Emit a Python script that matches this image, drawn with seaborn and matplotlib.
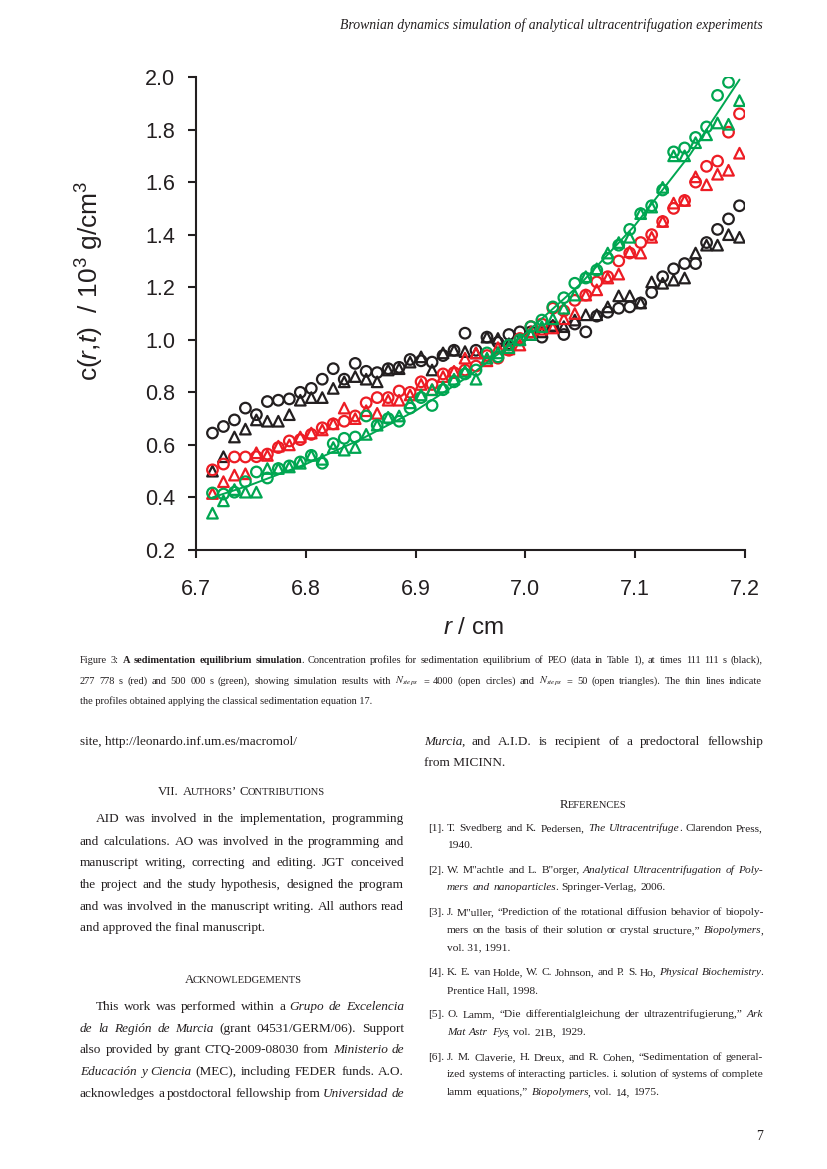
import matplotlib
matplotlib.use("Agg")
import numpy as np
import matplotlib.pyplot as plt
import seaborn as sns

# ---------------- data ----------------
radius = [6.715, 6.725, 6.735, 6.745, 6.755, 6.765, 6.775, 6.785, 6.795, 6.805,
          6.815, 6.825, 6.835, 6.845, 6.855, 6.865, 6.875, 6.885, 6.895, 6.905,
          6.915, 6.925, 6.935, 6.945, 6.955, 6.965, 6.975, 6.985, 6.995, 7.005,
          7.015, 7.025, 7.035, 7.045, 7.055, 7.065, 7.075, 7.085, 7.095, 7.105,
          7.115, 7.125, 7.135, 7.145, 7.155, 7.165, 7.175, 7.185, 7.195]

black_circles = [0.645, 0.670, 0.695, 0.740, 0.715, 0.765, 0.770, 0.775, 0.800, 0.815,
                 0.850, 0.890, 0.850, 0.910, 0.880, 0.875, 0.890, 0.895, 0.925, 0.920,
                 0.915, 0.940, 0.960, 1.025, 0.960, 1.010, 0.990, 1.020, 1.030, 1.030,
                 1.010, 1.050, 1.020, 1.060, 1.030, 1.090, 1.105, 1.120, 1.125, 1.140,
                 1.180, 1.240, 1.270, 1.290, 1.290, 1.370, 1.420, 1.460, 1.510]
black_triangles = [0.500, 0.555, 0.630, 0.660, 0.695, 0.690, 0.690, 0.715, 0.770, 0.780,
                   0.780, 0.815, 0.840, 0.860, 0.850, 0.840, 0.885, 0.890, 0.915, 0.935,
                   0.885, 0.950, 0.960, 0.955, 0.950, 1.010, 1.005, 0.985, 1.000, 1.020,
                   1.030, 1.055, 1.050, 1.075, 1.095, 1.095, 1.125, 1.167, 1.167, 1.140,
                   1.220, 1.215, 1.227, 1.235, 1.330, 1.360, 1.360, 1.400, 1.390]
red_circles = [0.505, 0.527, 0.554, 0.554, 0.555, 0.565, 0.590, 0.615, 0.620, 0.640,
               0.665, 0.680, 0.690, 0.710, 0.760, 0.780, 0.780, 0.805, 0.800, 0.840,
               0.830, 0.870, 0.875, 0.885, 0.900, 0.940, 0.930, 0.960, 1.005, 1.050,
               1.060, 1.120, 1.110, 1.150, 1.170, 1.220, 1.240, 1.300, 1.330, 1.370,
               1.400, 1.450, 1.500, 1.530, 1.600, 1.660, 1.680, 1.790, 1.860]
red_triangles = [0.415, 0.460, 0.485, 0.490, 0.570, 0.560, 0.595, 0.600, 0.630, 0.645,
                 0.657, 0.680, 0.740, 0.700, 0.730, 0.720, 0.770, 0.770, 0.790, 0.830,
                 0.810, 0.860, 0.880, 0.930, 0.950, 0.920, 0.970, 0.965, 0.980, 1.030,
                 1.040, 1.045, 1.080, 1.100, 1.170, 1.190, 1.235, 1.250, 1.335, 1.330,
                 1.390, 1.450, 1.520, 1.530, 1.620, 1.590, 1.630, 1.645, 1.710]
green_circles = [0.417, 0.413, 0.420, 0.460, 0.497, 0.474, 0.510, 0.520, 0.535, 0.560,
                 0.530, 0.605, 0.625, 0.630, 0.710, 0.675, 0.700, 0.690, 0.740, 0.780,
                 0.750, 0.810, 0.840, 0.870, 0.885, 0.950, 0.935, 0.980, 1.000, 1.050,
                 1.075, 1.125, 1.160, 1.215, 1.235, 1.265, 1.310, 1.360, 1.420, 1.480,
                 1.510, 1.570, 1.715, 1.730, 1.770, 1.810, 1.930, 1.980, np.nan]
green_triangles = [0.340, 0.387, 0.430, 0.420, 0.420, 0.510, 0.510, 0.516, 0.530, 0.560,
                   0.545, 0.590, 0.580, 0.590, 0.640, 0.675, 0.705, 0.710, 0.760, 0.790,
                   0.810, 0.820, 0.850, 0.880, 0.850, 0.930, 0.950, 0.970, 1.000, 1.020,
                   1.050, 1.080, 1.120, 1.170, 1.240, 1.270, 1.330, 1.370, 1.390, 1.480,
                   1.505, 1.580, 1.700, 1.700, 1.750, 1.780, 1.825, 1.820, 1.910]

# thin line (classical sedimentation equation), green profile
line_r = [6.715, 6.75, 6.80, 6.85, 6.90, 6.95, 7.00, 7.05, 7.10, 7.15, 7.195]
line_c = [0.400, 0.448, 0.527, 0.621, 0.730, 0.866, 1.024, 1.212, 1.437, 1.705, 1.990]

x_ticks = [6.7, 6.8, 6.9, 7.0, 7.1, 7.2]
y_ticks = [0.2, 0.4, 0.6, 0.8, 1.0, 1.2, 1.4, 1.6, 1.8, 2.0]

BLACK = "#231f20"
RED = "#ed1c24"
GREEN = "#00a651"

# ---------------- style ----------------
sns.set_theme(style="ticks")
plt.rcParams["font.family"] = ["Liberation Sans", "DejaVu Sans"]
plt.rcParams["mathtext.fontset"] = "custom"
plt.rcParams["mathtext.rm"] = "Liberation Sans"
plt.rcParams["mathtext.it"] = "Liberation Sans:italic"

W, H = 827, 1169
fig = plt.figure(figsize=(W / 100, H / 100), dpi=100)
fig.patch.set_facecolor("white")

# ---------------- chart ----------------
ax = fig.add_axes([196 / W, 1 - 550 / H, (745 - 196) / W, (550 - 77) / H])
ax.set_facecolor("none")
series = [
    (black_triangles, "^", BLACK), (black_circles, "o", BLACK),
    (red_triangles, "^", RED), (red_circles, "o", RED),
    (green_triangles, "^", GREEN), (green_circles, "o", GREEN),
]
for vals, mk, col in series:
    sns.scatterplot(x=radius, y=vals, marker=mk, s=58, color=col,
                    facecolor="none", edgecolor=col, linewidth=1.6,
                    ax=ax, legend=False, zorder=3)
sns.lineplot(x=line_r, y=line_c, color=GREEN, linewidth=1.4, ax=ax,
             legend=False, zorder=4)

ax.set_xlim(6.7, 7.2)
ax.set_ylim(0.2, 2.0)
ax.set_xticks(x_ticks)
ax.set_xticklabels([f"{v:.1f}" for v in x_ticks])
ax.set_yticks(y_ticks)
ax.set_yticklabels([f"{v:.1f}" for v in y_ticks])
for s in ["top", "right"]:
    ax.spines[s].set_visible(False)
for s in ["left", "bottom"]:
    ax.spines[s].set_linewidth(1.5)
    ax.spines[s].set_color(BLACK)
ax.tick_params(axis="both", direction="out", length=6, width=1.5,
               colors=BLACK, labelsize=15.5)
ax.tick_params(axis="x", pad=15)
ax.tick_params(axis="y", pad=9)
ax.set_xlabel("")
ax.set_ylabel("")
fig.text(473 / W, 1 - 628 / H, r"$\it{r}$ / cm", ha="center", va="center",
         fontsize=17.5, color=BLACK)
fig.text(90 / W, 1 - 281 / H, r"c($\it{r}$,$\it{t}$)  / 10$^3$ g/cm$^3$",
         ha="center", va="center", rotation=90, fontsize=19, color=BLACK)

# ---------------- page text ----------------
tax = fig.add_axes([0, 0, 1, 1], zorder=-1)
tax.set_xlim(0, W)
tax.set_ylim(H, 0)
tax.axis("off")
renderer = fig.canvas.get_renderer()
SERIF = ["Liberation Serif", "DejaVu Serif"]
TXT = "#231f20"


def make(txt, x, y, size, style):
    kw = dict(fontsize=size, family=SERIF, va="baseline", ha="left", color=TXT)
    if style == "i":
        kw["style"] = "italic"
    if style == "b":
        kw["weight"] = "bold"
    t = tax.text(x, y, txt, **kw)
    if style == "m":
        t.set_math_fontfamily("stix")
    return t


def width(t):
    return t.get_window_extent(renderer=renderer).width


def tokens(segs):
    words = [[]]
    for seg in segs:
        txt, st = seg[0], seg[1]
        f = seg[2] if len(seg) > 2 else 1.0
        parts = txt.split(" ")
        for k, p in enumerate(parts):
            if k > 0:
                words.append([])
            if p:
                words[-1].append((p, st, f))
    return [w for w in words if w]


def line(segs, x0, y, size, x1=None, justify=False, align="left"):
    # simple case: one style, no justification -> single text object
    if not justify and len(segs) == 1 and len(segs[0]) == 2:
        t = make(segs[0][0], x0, y, size, segs[0][1])
        t.set_ha(align)
        return
    words = tokens(segs)
    objs = []
    for w in words:
        pcs = []
        for txt, st, f in w:
            t = make(txt, 0, y, size * f, st)
            pcs.append((t, width(t)))
        objs.append(pcs)
    a = make("a a", 0, y, size, "r")
    b = make("aa", 0, y, size, "r")
    sp = width(a) - width(b) + 0.8
    a.remove()
    b.remove()
    kern = -1.2
    wws = [sum(p[1] for p in pc) + kern * (len(pc) - 1) for pc in objs]
    total = sum(wws)
    if justify and x1 is not None and len(objs) > 1:
        gap = (x1 - x0 - total) / (len(objs) - 1)
    else:
        gap = sp
    full = total + gap * (len(objs) - 1)
    if align == "center":
        x = x0 - full / 2
    elif align == "right":
        x = x0 - full
    else:
        x = x0
    for pc, ww in zip(objs, wws):
        for j, (t, wd) in enumerate(pc):
            t.set_x(x)
            x += wd + (kern if j < len(pc) - 1 else 0)
        x += gap


# header
line([("Brownian dynamics simulation of analytical ultracentrifugation experiments", "i")],
     763, 29, 9.9, align="right")

# caption
CAP = 7.5
line([("Figure 3: ", "r"), ("A sedimentation equilibrium simulation", "b"),
      (". Concentration profiles for sedimentation equilibrium of PEO (data in Table 1), at times 111 111 s (black),", "r")],
     80, 663, CAP, x1=762, justify=True)
line([("277 778 s (red) and 500 000 s (green), showing simulation results with ", "r"),
      (r"$N_{steps}$", "m"), (" = 4000 (open circles) and ", "r"), (r"$N_{steps}$", "m"),
      (" = 50 (open triangles). The thin lines indicate", "r")],
     80, 684, CAP, x1=762, justify=True)
line([("the profiles obtained applying the classical sedimentation equation 17.", "r")],
     80, 704, CAP)

# left column
BODY = 9.5
L0, L1 = 80, 404
line([("site, http://leonardo.inf.um.es/macromol/", "r")], L0, 745, BODY)
line([("VII. A", "r", 0.97), ("UTHORS", "r", 0.8), ("’ C", "r", 0.97), ("ONTRIBUTIONS", "r", 0.8)],
     241, 795, BODY, align="center")
body1 = ["AID was involved in the implementation, programming",
         "and calculations.  AO was involved in the programming and",
         "manuscript writing, correcting and editing.  JGT conceived",
         "the project and the study hypothesis, designed the program",
         "and was involved in the manuscript writing. All authors read",
         "and approved the final manuscript."]
ys1 = [822, 845, 866, 888, 910, 931]
for k, (txt, yy) in enumerate(zip(body1, ys1)):
    line([(txt, "r")], 96 if k == 0 else L0, yy, BODY, x1=L1, justify=(k < len(body1) - 1))

line([("A", "r", 0.97), ("CKNOWLEDGEMENTS", "r", 0.8)], 243, 983, BODY, align="center")
ack = [
    [("This work was performed within a ", "r"), ("Grupo de Excelencia", "i")],
    [("de la Región de Murcia", "i"), (" (grant 04531/GERM/06).  Support", "r")],
    [("also provided by grant CTQ-2009-08030 from ", "r"), ("Ministerio de", "i")],
    [("Educación y Ciencia", "i"), (" (MEC), including FEDER funds.  A.O.", "r")],
    [("acknowledges a postdoctoral fellowship from ", "r"), ("Universidad de", "i")],
]
ys2 = [1010, 1032, 1053, 1075, 1097]
for k, (segs, yy) in enumerate(zip(ack, ys2)):
    line(segs, 96 if k == 0 else L0, yy, BODY, x1=L1, justify=True)

# right column
R0, R1 = 424, 763
line([("Murcia", "i"), (", and A.I.D. is recipient of a predoctoral fellowship", "r")],
     R0, 745, BODY, x1=R1, justify=True)
line([("from MICINN.", "r")], R0, 766, BODY)
line([("R", "r", 0.97), ("EFERENCES", "r", 0.8)], 593, 808, BODY, align="center")

REF = 8.2
RX = 447
refs = [
    ("[1].", [
        ([("T. Svedberg and K. Pedersen, ", "r"), ("The Ultracentrifuge", "i"), (".  Clarendon Press,", "r")], 831, True),
        ([("1940.", "r")], 848, False)]),
    ("[2].", [
        ([('W. M"achtle and L. B"orger, ', "r"), ("Analytical Ultracentrifugation of Poly-", "i")], 873, True),
        ([("mers and nanoparticles", "i"), (". Springer-Verlag, 2006.", "r")], 890, False)]),
    ("[3].", [
        ([('J. M"uller, “Prediction of the rotational diffusion behavior of biopoly-', "r")], 915, True),
        ([("mers on the basis of their solution or crystal structure,” ", "r"), ("Biopolymers", "i"), (",", "r")], 933, True),
        ([("vol. 31, 1991.", "r")], 950, False)]),
    ("[4].", [
        ([("K. E. van Holde, W. C. Johnson, and P. S. Ho, ", "r"), ("Physical Biochemistry", "i"), (".", "r")], 975, True),
        ([("Prentice Hall, 1998.", "r")], 993, False)]),
    ("[5].", [
        ([("O. Lamm, “Die differentialgleichung der ultrazentrifugierung,” ", "r"), ("Ark", "i")], 1017, True),
        ([("Mat Astr Fys", "i"), (", vol. 21B, 1929.", "r")], 1035, False)]),
    ("[6].", [
        ([("J. M. Claverie, H. Dreux, and R. Cohen, “Sedimentation of general-", "r")], 1060, True),
        ([("ized systems of interacting particles. i. solution of systems of complete", "r")], 1077, True),
        ([("lamm equations,” ", "r"), ("Biopolymers", "i"), (", vol. 14, 1975.", "r")], 1095, False)]),
]
for lab, lines_ in refs:
    line([(lab, "r")], 428, lines_[0][1], REF)
    for segs, yy, just in lines_:
        line(segs, RX, yy, REF, x1=R1, justify=just)

# page number
line([("7", "r")], 763, 1140, 9.9, align="right")

fig.savefig("out.png", dpi=100, facecolor="white")
